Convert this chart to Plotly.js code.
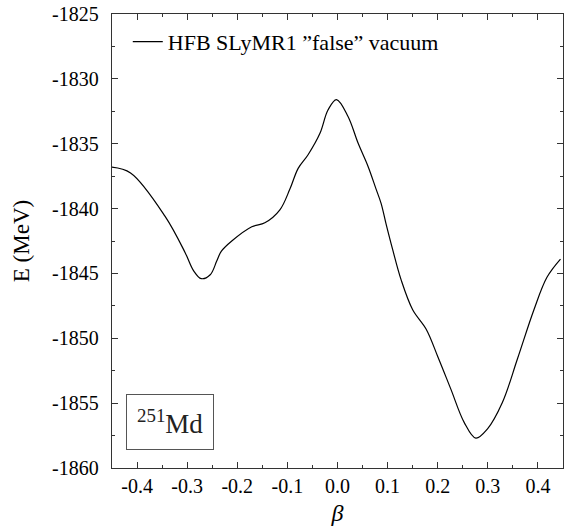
<!DOCTYPE html>
<html>
<head>
<meta charset="utf-8">
<script src="https://cdn.plot.ly/plotly-3.0.1.min.js"></script>
<style>html,body{margin:0;padding:0;background:#fff;}#plot{width:564px;height:532px;}</style>
</head>
<body>
<div id="plot"></div>
<script>
const beta = [-0.452, -0.413, -0.344, -0.304, -0.287, -0.272, -0.254, -0.241, -0.232, -0.211, -0.171, -0.145, -0.115, -0.095, -0.0785, -0.0587, -0.035, -0.019, -0.002, 0.021, 0.041, 0.061, 0.077, 0.087, 0.097, 0.110, 0.127, 0.150, 0.177, 0.200, 0.226, 0.253, 0.276, 0.299, 0.329, 0.359, 0.392, 0.418, 0.445];
const energy = [-1836.8, -1837.25, -1840.6, -1843.4, -1844.8, -1845.4, -1845.1, -1844.05, -1843.3, -1842.5, -1841.4, -1841.1, -1840.1, -1838.5, -1836.9, -1835.85, -1834.2, -1832.4, -1831.6, -1832.9, -1834.95, -1836.75, -1838.5, -1839.6, -1841.2, -1843.15, -1845.5, -1847.8, -1849.3, -1851.4, -1853.9, -1856.5, -1857.7, -1857.0, -1854.95, -1851.6, -1847.8, -1845.3, -1843.9];
const seriesName = 'HFB SLyMR1 \u201dfalse\u201d vacuum';
const xTickVals = [-0.4, -0.3, -0.2, -0.1, 0.0, 0.1, 0.2, 0.3, 0.4];
const xTickText = ['-0.4', '-0.3', '-0.2', '-0.1', '0.0', '0.1', '0.2', '0.3', '0.4'];
const yTickVals = [-1825, -1830, -1835, -1840, -1845, -1850, -1855, -1860];
const yTickText = ['-1825', '-1830', '-1835', '-1840', '-1845', '-1850', '-1855', '-1860'];
const nucleusLabel = '<sup>251</sup>Md';

const font = 'Liberation Serif';
const axisCommon = {
  showline: true, linecolor: '#333', linewidth: 1.3, mirror: 'ticks',
  ticks: 'inside', ticklen: 6, tickcolor: '#333', tickwidth: 1,
  showgrid: false, zeroline: false, tickmode: 'array',
  tickfont: {family: font, size: 20, color: '#000'}
};
const data = [{
  x: beta, y: energy, type: 'scatter', mode: 'lines',
  line: {color: '#000', width: 1.2, shape: 'spline', smoothing: 1},
  name: seriesName
}];
const layout = {
  width: 564, height: 532,
  margin: {l: 112, r: 1, t: 14, b: 64},
  paper_bgcolor: '#fff', plot_bgcolor: '#fff',
  font: {family: font},
  showlegend: true,
  legend: {x: 0.035, y: 0.985, xanchor: 'left', yanchor: 'top', bgcolor: 'rgba(0,0,0,0)',
           font: {family: font, size: 22, color: '#000'}},
  xaxis: Object.assign({}, axisCommon, {
    range: [-0.45, 0.45], tickvals: xTickVals, ticktext: xTickText,
    minor: {ticks: 'inside', dtick: 0.05, ticklen: 3, tickcolor: '#333'},
    title: {text: '<i>\u03b2</i>', font: {family: font, size: 24, color: '#000'}, standoff: 8}
  }),
  yaxis: Object.assign({}, axisCommon, {
    range: [-1860, -1825], tickvals: yTickVals, ticktext: yTickText,
    ticklabelstandoff: 8,
    minor: {ticks: 'inside', dtick: 2.5, ticklen: 3, tickcolor: '#333'},
    title: {text: 'E (MeV)', font: {family: font, size: 23, color: '#000'}, standoff: 16}
  }),
  annotations: [{
    xref: 'paper', yref: 'paper', x: 0.032, y: 0.04, xanchor: 'left', yanchor: 'bottom',
    text: nucleusLabel, showarrow: false,
    font: {family: font, size: 27, color: '#222'},
    bordercolor: '#555', borderwidth: 1, borderpad: 10
  }]
};
Plotly.newPlot('plot', data, layout, {displayModeBar: false, staticPlot: true});
</script>
</body>
</html>
